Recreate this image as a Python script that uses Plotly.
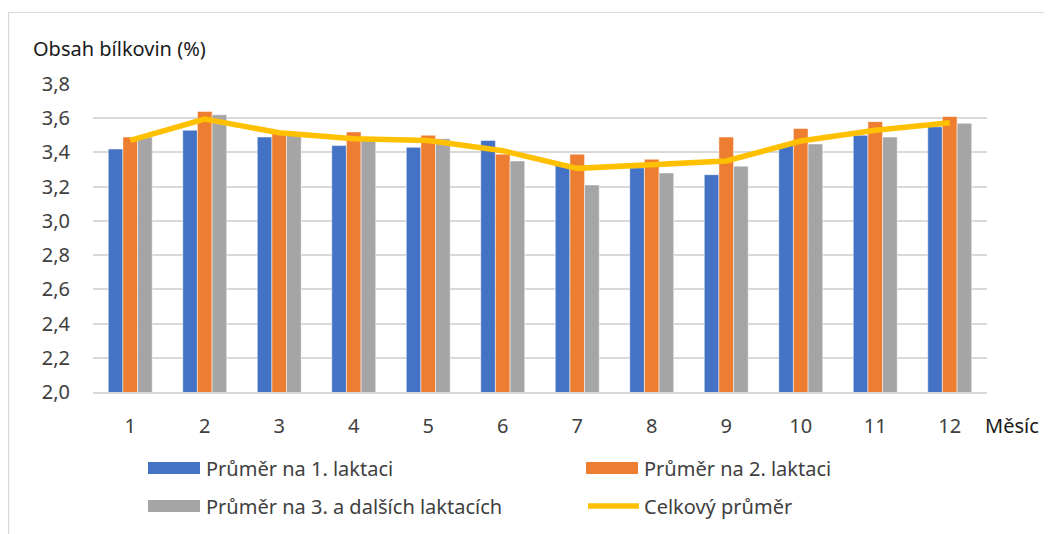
import plotly.graph_objects as go

months = ["1", "2", "3", "4", "5", "6", "7", "8", "9", "10", "11", "12"]
lakt1 = [3.42, 3.53, 3.49, 3.44, 3.43, 3.47, 3.33, 3.31, 3.27, 3.45, 3.50, 3.55]
lakt2 = [3.49, 3.64, 3.52, 3.52, 3.50, 3.39, 3.39, 3.36, 3.49, 3.54, 3.58, 3.61]
lakt3 = [3.49, 3.62, 3.52, 3.47, 3.48, 3.35, 3.21, 3.28, 3.32, 3.45, 3.49, 3.57]
celkem = [3.47, 3.595, 3.515, 3.48, 3.47, 3.41, 3.307, 3.326, 3.35, 3.467, 3.53, 3.574]

names = ["Průměr na 1. laktaci", "Průměr na 2. laktaci",
         "Průměr na 3. a dalších laktacích", "Celkový průměr"]
colors = ["#4472C4", "#ED7D31", "#A5A5A5", "#FFC000"]
yticks = [2.0, 2.2, 2.4, 2.6, 2.8, 3.0, 3.2, 3.4, 3.6, 3.8]
ytick_text = ["2,0", "2,2", "2,4", "2,6", "2,8", "3,0", "3,2", "3,4", "3,6", "3,8"]

OFF = 8  # page body margin
W, H = 1052 - OFF, 534 - OFF
L, R, T, B = 93 - OFF, 987 - OFF, 84 - OFF, 392 - OFF
FONT = "Noto Sans"
FS = 20
TXT = "#404040"

fig = go.Figure()
for vals, nm, col in zip([lakt1, lakt2, lakt3], names[:3], colors[:3]):
    fig.add_trace(go.Bar(x=months, y=vals, name=nm, marker_color=col,
                         marker_line=dict(color="rgba(255,255,255,0.5)", width=1),
                         showlegend=False))
fig.add_trace(go.Scatter(x=months, y=celkem, name=names[3], mode="lines",
                         line=dict(color=colors[3], width=5.5), showlegend=False))


def px(x):
    return (x - OFF - L) / (R - L)


def py(y):
    return (B - (y - OFF)) / (B - T)


shapes = []
annotations = []
# outer frame (top and left edges)
shapes.append(dict(type="line", xref="paper", yref="paper", x0=px(8.5), x1=px(1070),
                   y0=py(12.5), y1=py(12.5), line=dict(color="#D9D9D9", width=1.2)))
shapes.append(dict(type="line", xref="paper", yref="paper", x0=px(8.6), x1=px(8.6),
                   y0=py(12), y1=py(545), line=dict(color="#D9D9D9", width=1.2)))

# custom legend
leg = [(148, 468, 0), (586, 468, 1), (148, 506, 2), (586, 506, 3)]
for (lx, ly, i) in leg:
    if i < 3:
        shapes.append(dict(type="rect", xref="paper", yref="paper",
                           x0=px(lx), x1=px(lx + 52), y0=py(ly - 6), y1=py(ly + 6),
                           fillcolor=colors[i], line=dict(width=0)))
    else:
        shapes.append(dict(type="line", xref="paper", yref="paper",
                           x0=px(lx + 2), x1=px(lx + 53), y0=py(ly), y1=py(ly),
                           line=dict(color=colors[i], width=5.5)))
    annotations.append(dict(text=names[i], xref="paper", yref="paper",
                            x=px(lx + 56), y=py(ly), xanchor="left", yanchor="middle",
                            showarrow=False, font=dict(family=FONT, size=FS, color=TXT)))

annotations.append(dict(text="Obsah bílkovin (%)", xref="paper", yref="paper",
                        x=px(31), y=py(48), xanchor="left", yanchor="middle",
                        showarrow=False, font=dict(family=FONT, size=FS, color="#1a1a1a")))
annotations.append(dict(text="Měsíc", xref="paper", yref="paper",
                        x=px(983), y=py(425), xanchor="left", yanchor="middle",
                        showarrow=False, font=dict(family=FONT, size=FS, color="#1a1a1a")))

fig.update_layout(
    width=W, height=H,
    margin=dict(l=L, r=W - R, t=T, b=H - B),
    paper_bgcolor="white", plot_bgcolor="white",
    barmode="group", bargap=0.41, bargroupgap=0.0,
    font=dict(family=FONT, size=FS, color=TXT),
    shapes=shapes, annotations=annotations,
    showlegend=False,
)
fig.update_xaxes(type="category", showgrid=False, showline=True,
                 linecolor="#D9D9D9", linewidth=1.5, ticks="",
                 tickfont=dict(family=FONT, size=FS, color=TXT), ticklabelstandoff=15)
fig.update_yaxes(range=[2.0, 3.8], tickvals=yticks, ticktext=ytick_text,
                 showgrid=True, gridcolor="#D9D9D9", gridwidth=1.5,
                 zeroline=False, showline=False, ticks="",
                 tickfont=dict(family=FONT, size=FS, color=TXT), ticklabelstandoff=22)

fig.write_html("out.html")
